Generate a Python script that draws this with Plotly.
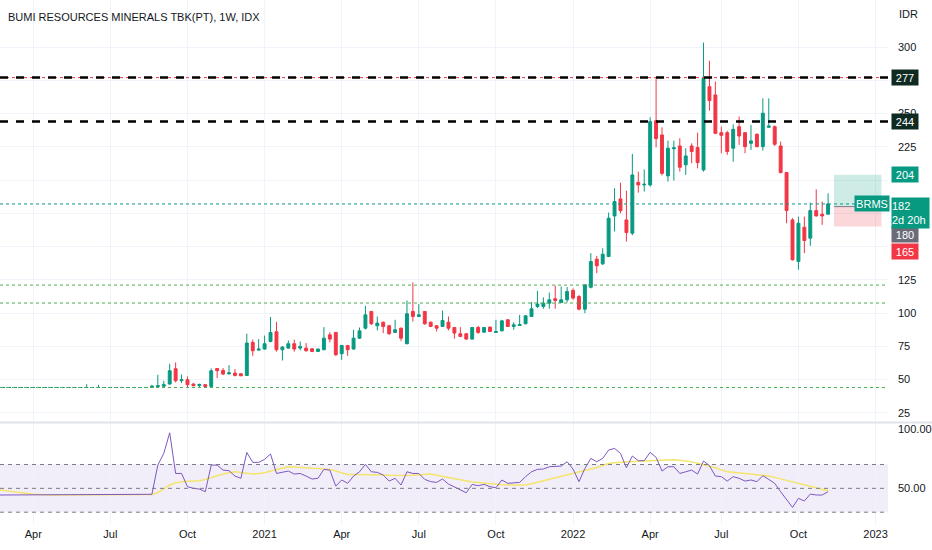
import pandas as pd
import plotly.graph_objects as go

TITLE = "BUMI RESOURCES MINERALS TBK(PT), 1W, IDX"
TICKER = "BRMS"

# weekly bars (Monday of each week); the Lebaran week of 2 May 2022 had no trading
first_week = "2020-02-24"
axis_end_week = "2023-01-16"
closed_weeks = ["2022-05-02"]

opens = [44, 44, 44, 44, 44, 44, 44, 44, 44, 44, 44, 44, 44, 44, 44, 44, 44, 44, 44, 44,
         44, 44, 44, 44, 44, 44, 44, 44.5, 45, 46.6, 58.1, 49.1, 49.8, 46.6, 45.5, 46.1, 44.8, 58.3, 56.8, 54.2,
         54.8, 54.3, 53, 77.9, 72.1, 72.9, 78.6, 85.9, 72.4, 73.6, 76.9, 73.6, 73.6, 73.1, 71.1, 72.4, 83.6, 85.4, 69.4, 75.6,
         72.9, 81.1, 88.6, 101.2, 90.4, 93.1, 90.4, 85.4, 88.6, 76.9, 101.2, 97.4, 101.2, 93.1, 90.4, 89.9, 93.1, 89.1, 84.4, 84.4,
         80.4, 89.1, 85.6, 89.4, 85.4, 86.6, 94.9, 89.9, 90.6, 91.9, 97.4, 104.9, 104.9, 107.4, 110.7, 107.9, 110, 117, 112.4, 102.9,
         119.4, 140.5, 137, 142.5, 173, 185.8, 170, 160, 198.3, 196.3, 196.3, 244.6, 233.9, 203.1, 223.5, 225.6, 211.4, 225.6, 224.4, 207.6,
         270.2, 264, 235.6, 235.6, 223.9, 240.1, 235.6, 227.6, 234.4, 225.1, 239.6, 240.1, 225.6, 205.6, 170, 138.7, 164.5, 156.3, 177, 174.3,
         174.3]
highs = [44, 44, 44, 44, 44, 44, 44, 44, 44, 44, 44, 44, 44, 44, 44, 46.5, 44, 46, 44, 44,
         44, 44, 44, 44, 44, 44, 46, 53.6, 49, 61.8, 62.8, 53.8, 52.3, 47.2, 46.8, 46.6, 58.3, 58.6, 58.6, 60.8,
         57.8, 54.8, 84.4, 80, 80.4, 83, 97, 93.4, 75, 79.4, 80, 78.6, 77.4, 73.5, 73.2, 89.4, 85.6, 85.6, 76, 76,
         87.4, 89.1, 105.4, 101.5, 97.4, 93.6, 91.2, 94.9, 89, 109.4, 123, 106.7, 101.5, 93.6, 91, 101.9, 97.4, 89.5, 89.4, 84.8,
         89.5, 90.4, 89.5, 89.8, 94.9, 94.9, 95.2, 93.1, 98.6, 98.2, 108.2, 116.7, 111.7, 115.4, 120.7, 119.9, 119.5, 118.5, 113.5, 121.5,
         145, 143, 148.7, 175.5, 193.8, 198, 192, 219.6, 206.3, 208, 247.2, 276.5, 239.6, 229.6, 229.6, 231.4, 223.9, 227.6, 235.6, 303.3,
         289.7, 274, 240.1, 237, 241.9, 247.7, 236, 241.4, 235, 261.4, 261.4, 241, 228.9, 206, 171.3, 172.5, 172.5, 183, 193, 183.8,
         190]
lows = [44, 44, 44, 44, 44, 44, 44, 44, 44, 44, 44, 44, 44, 44, 44, 44, 44, 44, 44, 44,
        44, 44, 44, 44, 44, 44, 43.8, 44, 43.8, 46, 47.8, 47.3, 44.3, 45, 44.3, 44.5, 44.5, 51, 53.3, 54,
        52.3, 52.5, 52.8, 67.8, 71.8, 72.5, 78, 71, 64.3, 73, 70.9, 71.9, 71, 70.5, 70.8, 72, 77.9, 67.8, 64.8, 67.8,
        72.5, 80.5, 87.6, 91, 86.9, 84.9, 83.6, 85, 78.9, 76.5, 93.6, 97, 91.1, 89.4, 86.1, 89.5, 86.9, 80.6, 81.9, 79.9,
        80, 84.4, 85.2, 85.8, 85, 86.2, 89.5, 87.4, 90.3, 91.5, 97, 103.7, 103.2, 103.2, 103.2, 107.5, 108, 110, 102, 99.9,
        118.5, 130, 136, 142, 161.3, 175, 153.7, 158.5, 190.5, 191.3, 195, 224.6, 203.5, 198.8, 199.6, 206.3, 203.8, 212.6, 208.8, 206.3,
        252.2, 234.5, 220.1, 218.9, 213.8, 226.4, 220.1, 222.6, 224.5, 222.1, 239.2, 225.6, 205, 167.5, 139.5, 132.5, 145, 150.5, 172.5, 166.3,
        174]
closes = [44, 44, 44, 44, 44, 44, 44, 44, 44, 44, 44, 44, 44, 44, 44, 44, 44, 44, 44, 44,
          44, 44, 44, 44, 44, 44, 45, 45.3, 46.1, 56.6, 49.1, 49.8, 46.1, 45.3, 46.3, 44.8, 56.6, 56.6, 54.1, 55,
          53.1, 52.8, 77.4, 71.6, 72.9, 76.9, 85.4, 72.4, 74.4, 76.9, 72.9, 74.9, 71.6, 71.1, 72.9, 81.1, 80.4, 68.6, 75.6, 72.4,
          81.1, 86.6, 98.6, 91.9, 92.4, 89.9, 84.4, 87.4, 81.1, 99.4, 97.4, 98.6, 91.9, 89.9, 88.6, 94.4, 88.6, 84.9, 82.4, 80.4,
          89.1, 85.4, 89.1, 86.1, 86.1, 94.1, 89.9, 91.1, 91.3, 97.9, 103.2, 106.7, 107.4, 109.9, 109.4, 109.9, 116.2, 111.2, 102.9, 121.2,
          138.7, 135.5, 144.2, 171.3, 183.8, 177, 160.5, 203.8, 196.3, 196.8, 243.9, 231.1, 205, 223.9, 224.2, 209.6, 218.1, 221.4, 213.1, 276.5,
          259.7, 235.1, 233.6, 221.4, 238.1, 233.1, 225.1, 229.4, 225.1, 250.2, 240.6, 226.9, 205.6, 177, 140, 167.5, 154.5, 177, 173, 173,
          182]

rsi = [44.4, 44.4, 44.4, 44.4, 44.4, 44.4, 44.4, 44.4, 44.4, 44.4, 44.4, 44.4, 44.4, 44.4, 44.4, 44.4, 44.4, 44.4, 44.4, 44.4,
       44.4, 44.4, 44.4, 44.4, 44.4, 44.4, 45, 69.5, 79.3, 96.6, 62.5, 62.5, 51.4, 50, 49.4, 47.2, 69.5, 69.5, 65.3, 64.8,
       60.3, 58.4, 80.1, 71.8, 71.8, 74.3, 78.8, 62.5, 63.4, 64.5, 62, 62.5, 60.3, 57.8, 58.4, 65.9, 65.3, 51.9, 57, 54.2,
       60.3, 63.9, 70.1, 63.9, 63.4, 61.2, 56.1, 58.4, 52.8, 63.9, 62.5, 62.5, 57.5, 55.6, 55, 57.8, 53.6, 51.4, 49.1, 46.3,
       53.3, 52.2, 53.3, 51.4, 50.5, 57, 54.2, 54.7, 55, 59.8, 63.9, 65.9, 66.2, 68.1, 68.7, 68.7, 72.3, 66.2, 55.6, 66.7,
       75.1, 72.3, 75.1, 82.1, 83.5, 79.3, 67.3, 77.1, 73.2, 73.2, 80.2, 76, 64.5, 68.1, 68.1, 62.5, 63.9, 65.3, 62, 72.9,
       69, 60.3, 59.8, 56.1, 59.8, 58.4, 56.1, 57, 55.6, 60.6, 57.5, 54.2, 47.2, 40.2, 34, 41.6, 39.4, 45.2, 44.4, 44.4,
       47.2]
rsi_ma = [48.8, 48.3, 47.8, 47.2, 46.5, 45.7, 45, 44.6, 44.4, 44.4, 44.4, 44.4, 44.4, 44.4, 44.4, 44.4, 44.4, 44.4, 44.4, 44.4,
          44.4, 44.4, 44.4, 44.4, 44.4, 44.4, 44.8, 46.5, 49.5, 52.8, 54.5, 55.6, 56, 56.2, 56.4, 57.5, 59.2, 60.8, 62, 63,
          63.9, 63.2, 62.5, 62, 62.4, 63.1, 64.5, 65.9, 67, 68.1, 67.8, 67.3, 67, 66.8, 66.7, 66.4, 65.9, 64.5, 63, 61.7,
          61.6, 61.6, 61.7, 61.5, 61.3, 61.2, 61, 60.8, 60.6, 60.8, 61, 61.2, 61.6, 62, 61, 60, 59.2, 58, 57, 56,
          55.3, 54.8, 54.2, 53.8, 53.4, 53, 52.8, 52.7, 52.8, 52.8, 53.8, 55, 56.3, 57.5, 58.5, 59.8, 61.2, 62.3, 63.5, 64.7,
          65.9, 67.5, 69.2, 70.9, 71.4, 71.9, 72.3, 72.5, 72.8, 73, 73.2, 73.6, 74, 74.3, 74, 73.6, 73.2, 72.2, 71, 69.8,
          68.7, 67.2, 65.5, 63.9, 63.4, 62.9, 62.4, 62, 61.6, 61, 60.3, 59.2, 58, 56.8, 55.6, 54.2, 52.8, 51.4, 50.3, 49.1,
          48]

price_ticks = [25, 50, 75, 100, 125, 150, 175, 200, 225, 250, 275, 300]
hidden_price_ticks = [150, 175, 200, 275]  # covered by the marker labels on the scale
rsi_ticks = [50, 100]
rsi_bands = [30, 50, 70]
resistance_levels = [277, 244]
support_levels = [121, 107.5, 44]
position_entry, position_target, position_stop = 180, 204, 165
countdown = "2d 20h"

assert len({len(opens), len(highs), len(lows), len(closes), len(rsi), len(rsi_ma)}) == 1

# bar index axis, like TradingView: ticks on the first bar of each quarter
weeks = pd.date_range(first_week, axis_end_week, freq="W-MON")
weeks = weeks[~weeks.isin(pd.to_datetime(closed_weeks))]
tick_idx, tick_txt = [], []
for i, d in enumerate(weeks):
    if d.month in (1, 4, 7, 10) and (i == 0 or weeks[i - 1].month != d.month):
        tick_idx.append(i)
        tick_txt.append(str(d.year) if d.month == 1 else d.strftime("%b"))

bars = list(range(len(closes)))
last = closes[-1]

W, H = 932, 550
right = 888 / W
FONT = "Liberation Sans, Arial, sans-serif"
FS = 11
TXT = "#131722"
UP, DOWN = "#089981", "#f23645"
GRID = "#f0f3fa"

fig = go.Figure()
fig.add_trace(go.Candlestick(
    x=bars, open=opens, high=highs, low=lows, close=closes,
    increasing=dict(line=dict(color=UP, width=1), fillcolor=UP),
    decreasing=dict(line=dict(color=DOWN, width=1), fillcolor=DOWN),
    xaxis="x", yaxis="y", showlegend=False, name=TICKER))
fig.add_trace(go.Scatter(x=bars, y=rsi_ma, mode="lines", line=dict(color="#f4e46c", width=1.5),
                         xaxis="x2", yaxis="y2", showlegend=False))
fig.add_trace(go.Scatter(x=bars, y=rsi, mode="lines", line=dict(color="#7e57c2", width=1),
                         xaxis="x2", yaxis="y2", showlegend=False))

shapes = []
# rsi band and levels
shapes.append(dict(type="rect", xref="x2 domain", yref="y2", x0=0, x1=1, y0=rsi_bands[0], y1=rsi_bands[-1],
                   fillcolor="rgba(126,87,194,0.1)", line_width=0, layer="below"))
for lv in rsi_bands:
    shapes.append(dict(type="line", xref="x2 domain", yref="y2", x0=0, x1=1, y0=lv, y1=lv,
                       line=dict(color="#787b86", width=1, dash="4px,4px")))
# user drawn levels
for lv in support_levels:
    shapes.append(dict(type="line", xref="x domain", yref="y", x0=0, x1=1, y0=lv, y1=lv,
                       line=dict(color="#4caf50", width=1, dash="dot")))
shapes.append(dict(type="line", xref="x domain", yref="y", x0=0, x1=1, y0=resistance_levels[0],
                   y1=resistance_levels[0], line=dict(color=DOWN, width=1, dash="dot")))
for lv in resistance_levels:
    shapes.append(dict(type="line", xref="x domain", yref="y", x0=0, x1=1, y0=lv, y1=lv,
                       line=dict(color="#000000", width=2.5, dash="8px,8px")))
# current price line
shapes.append(dict(type="line", xref="x domain", yref="y", x0=0, x1=1, y0=last, y1=last,
                   line=dict(color=UP, width=1, dash="dot")))
# long position tool
px0, px1 = len(closes), len(closes) + 8
shapes.append(dict(type="rect", xref="x", yref="y", x0=px0, x1=px1, y0=position_entry, y1=position_target,
                   fillcolor="rgba(8,153,129,0.2)", line_width=0))
shapes.append(dict(type="rect", xref="x", yref="y", x0=px0, x1=px1, y0=position_stop, y1=position_entry,
                   fillcolor="rgba(242,54,69,0.2)", line_width=0))
shapes.append(dict(type="line", xref="x", yref="y", x0=px0, x1=px1, y0=position_entry, y1=position_entry,
                   line=dict(color="#787b86", width=1)))
# pane separator
shapes.append(dict(type="line", xref="paper", yref="paper", x0=0, x1=1, y0=1 - 422.5 / H, y1=1 - 422.5 / H,
                   line=dict(color="#e0e3eb", width=2)))

lab_x = 891 / W


def price_label(text, y, bg, yshift=0):
    return dict(text=text, xref="paper", yref="y", x=lab_x, y=y, xanchor="left", yanchor="middle",
                yshift=yshift, showarrow=False, bgcolor=bg, borderpad=0, width=26, height=15,
                font=dict(family=FONT, size=FS, color="#ffffff"))


annotations = [
    dict(text=TITLE, xref="paper", yref="paper", x=6 / W, y=1 - 17 / H, xanchor="left", yanchor="middle",
         showarrow=False, font=dict(family=FONT, size=FS, color=TXT)),
    dict(text="IDR", xref="paper", yref="paper", x=897 / W, y=1 - 14 / H, xanchor="left", yanchor="middle",
         showarrow=False, font=dict(family=FONT, size=FS, color=TXT)),
    price_label(str(resistance_levels[0]), resistance_levels[0], "#0f2a22"),
    price_label(str(resistance_levels[1]), resistance_levels[1], "#0f2a22"),
    price_label(str(position_target), position_target, UP),
    price_label(str(position_entry), position_entry, "#6a6d78", yshift=-28),
    price_label(str(position_stop), position_stop, DOWN, yshift=-25),
    dict(text=f"{last:g}<br>{countdown}", xref="paper", yref="y", x=lab_x, y=last, xanchor="left",
         yanchor="top", yshift=7, align="left", showarrow=False, bgcolor=UP, borderpad=0, width=37, height=30,
         font=dict(family=FONT, size=FS, color="#ffffff")),
    dict(text=TICKER, xref="paper", yref="y", x=890 / W, y=last, xanchor="right", yanchor="middle",
         showarrow=False, bgcolor=UP, borderpad=0, width=34, height=15,
         font=dict(family=FONT, size=FS, color="#ffffff")),
]

x_range = [0.39, 150.1]
fig.update_layout(
    width=W, height=H, margin=dict(l=0, r=0, t=0, b=0),
    paper_bgcolor="#ffffff", plot_bgcolor="#ffffff",
    font=dict(family=FONT, size=FS, color=TXT),
    shapes=shapes, annotations=annotations,
    xaxis=dict(domain=[0, right], anchor="y", range=x_range, tickvals=tick_idx, showticklabels=False,
               showgrid=True, gridcolor=GRID, zeroline=False, rangeslider=dict(visible=False)),
    xaxis2=dict(domain=[0, right], anchor="y2", matches="x", range=x_range, tickvals=tick_idx, ticktext=tick_txt,
                showgrid=True, gridcolor=GRID, zeroline=False, ticks="", ticklabelstandoff=2,
                tickfont=dict(family=FONT, size=FS, color=TXT)),
    yaxis=dict(domain=[1 - 422 / H, 1], anchor="x", side="right", range=[18.05, 335.35], tickvals=price_ticks,
               ticktext=["" if v in hidden_price_ticks else str(v) for v in price_ticks],
               showgrid=True, gridcolor=GRID, zeroline=False, ticks="", ticklabelstandoff=9,
               tickfont=dict(family=FONT, size=FS, color=TXT)),
    yaxis2=dict(domain=[1 - 524 / H, 1 - 423 / H], anchor="x2", side="right", range=[20.1, 104.8],
                tickvals=rsi_ticks, ticktext=[f"{v:.2f}" for v in rsi_ticks], showgrid=False, zeroline=False,
                ticks="", ticklabelstandoff=9, tickfont=dict(family=FONT, size=FS, color=TXT)),
)

# the page's default 8px body margin would push the chart off the window
fig.write_html("out.html", config={"displayModeBar": False},
               post_script="document.body.style.margin='0px';")
